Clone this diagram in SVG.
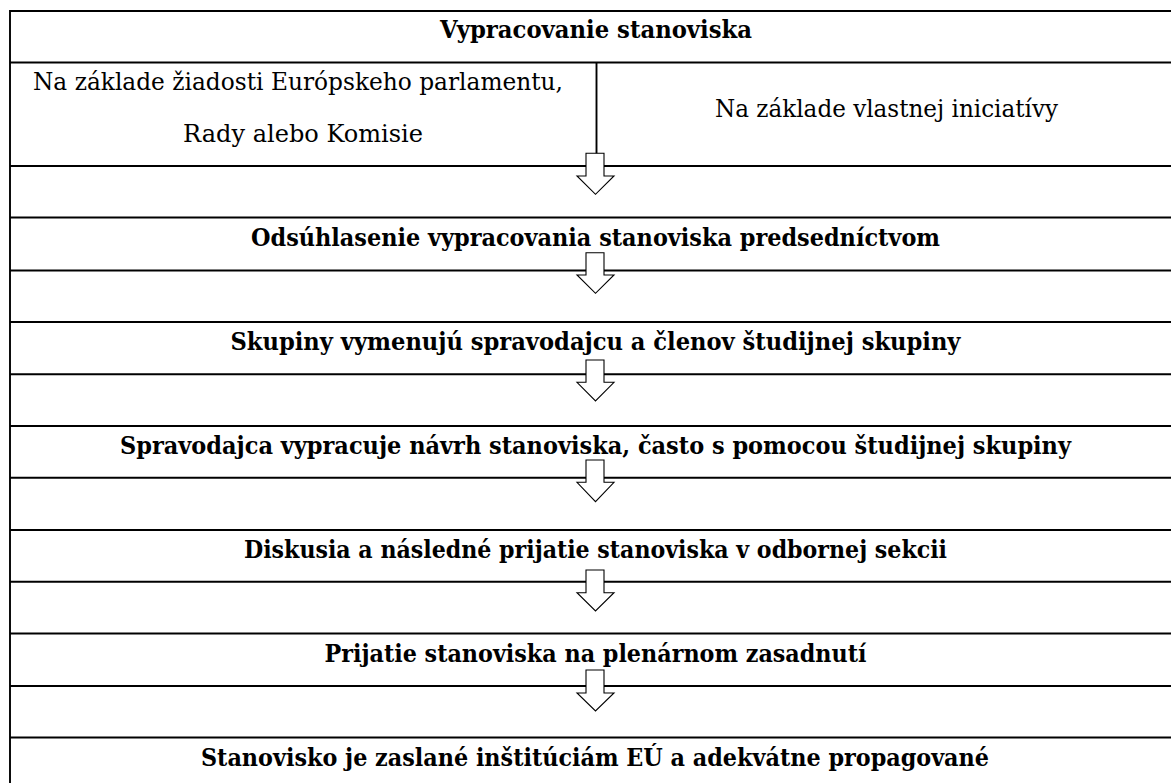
<svg xmlns="http://www.w3.org/2000/svg" width="1171" height="783" viewBox="0 0 1171 783">
<style>
.grid{stroke:#000;stroke-width:1.9;fill:none}
text{font-family:'DejaVu Serif',serif;font-size:25px;fill:#000;text-anchor:middle}
.b{font-weight:bold;font-size:24px}
.arr{fill:#fff;stroke:#000;stroke-width:1.1;stroke-linejoin:miter}
</style>
<rect width="1171" height="783" fill="#fff"/>
<g id="grid" class="grid">
<line x1="10" y1="11" x2="1180" y2="11"/>
<line x1="10" y1="10" x2="10" y2="783"/>
<line x1="10" y1="62.5" x2="1180" y2="62.5"/>
<line x1="596.5" y1="62.5" x2="596.5" y2="154"/>
<line x1="10" y1="166" x2="1180" y2="166"/>
<line x1="10" y1="217.5" x2="1180" y2="217.5"/>
<line x1="10" y1="270.5" x2="1180" y2="270.5"/>
<line x1="10" y1="322" x2="1180" y2="322"/>
<line x1="10" y1="374.3" x2="1180" y2="374.3"/>
<line x1="10" y1="426" x2="1180" y2="426"/>
<line x1="10" y1="477.7" x2="1180" y2="477.7"/>
<line x1="10" y1="530" x2="1180" y2="530"/>
<line x1="10" y1="581.7" x2="1180" y2="581.7"/>
<line x1="10" y1="633.5" x2="1180" y2="633.5"/>
<line x1="10" y1="686" x2="1180" y2="686"/>
<line x1="10" y1="737.5" x2="1180" y2="737.5"/>
</g>
<g id="n0"><text class="b" x="596" y="37.5" textLength="312" lengthAdjust="spacingAndGlyphs">Vypracovanie stanoviska</text></g>
<g id="n1a">
<text x="298" y="90" textLength="530" lengthAdjust="spacingAndGlyphs">Na základe žiadosti Európskeho parlamentu,</text>
<text x="303" y="141.7" textLength="240" lengthAdjust="spacingAndGlyphs">Rady alebo Komisie</text>
</g>
<g id="n1b"><text x="886.5" y="116.7" textLength="343" lengthAdjust="spacingAndGlyphs">Na základe vlastnej iniciatívy</text></g>
<g id="n2"><text class="b" x="595.5" y="245.8" textLength="689" lengthAdjust="spacingAndGlyphs">Odsúhlasenie vypracovania stanoviska predsedníctvom</text></g>
<g id="n3"><text class="b" x="595.5" y="350" textLength="730" lengthAdjust="spacingAndGlyphs">Skupiny vymenujú spravodajcu a členov študijnej skupiny</text></g>
<g id="n4"><text class="b" x="595.5" y="453.8" textLength="951" lengthAdjust="spacingAndGlyphs">Spravodajca vypracuje návrh stanoviska, často s pomocou študijnej skupiny</text></g>
<g id="n5"><text class="b" x="595.5" y="558.3" textLength="703" lengthAdjust="spacingAndGlyphs">Diskusia a následné prijatie stanoviska v odbornej sekcii</text></g>
<g id="n6"><text class="b" x="595.5" y="661.7" textLength="542" lengthAdjust="spacingAndGlyphs">Prijatie stanoviska na plenárnom zasadnutí</text></g>
<g id="n7"><text class="b" x="595" y="765.7" textLength="788" lengthAdjust="spacingAndGlyphs">Stanovisko je zaslané inštitúciám EÚ a adekvátne propagované</text></g>
<g id="connectors">
<polygon class="arr" points="586,153.3 604,153.3 604,176 614,176 595.5,194.3 577,176 586,176"/>
<polygon class="arr" points="586,252.7 604,252.7 604,275 614,275 595.5,293.3 577,275 586,275"/>
<polygon class="arr" points="586,360 604,360 604,382.3 614,382.3 595.5,401 577,382.3 586,382.3"/>
<polygon class="arr" points="586,460 604,460 604,482.3 614,482.3 595.5,501.7 577,482.3 586,482.3"/>
<polygon class="arr" points="586,570 604,570 604,592.7 614,592.7 595.5,611 577,592.7 586,592.7"/>
<polygon class="arr" points="586,670 604,670 604,693 614,693 595.5,711 577,693 586,693"/>
</g>
</svg>
